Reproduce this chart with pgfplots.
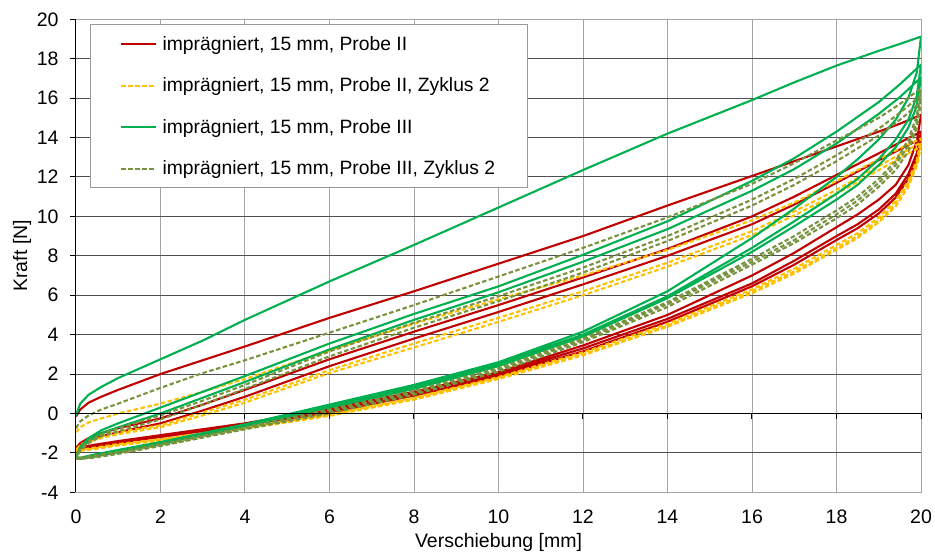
\documentclass[border=0pt]{standalone}
\usepackage{fontspec}
\setmainfont{Liberation Sans}
\usepackage{pgfplots}
\pgfplotsset{compat=1.18}
\usetikzlibrary{calc}

\definecolor{cRed}{RGB}{192,0,0}
\definecolor{cYellow}{RGB}{255,192,0}
\definecolor{cGreen}{RGB}{0,176,80}
\definecolor{cOlive}{RGB}{119,147,60}
\definecolor{gridH}{RGB}{80,80,80}
\definecolor{gridV}{RGB}{166,166,166}

\newcommand{\chartfont}{\fontsize{19.5}{23}\selectfont}
\newcommand{\legfont}{\fontsize{19.3}{23}\selectfont}

\begin{document}
\begin{tikzpicture}
\useasboundingbox (-76pt,-63.7pt) rectangle (859pt,492.3pt);
\begin{axis}[
  at={(0,0)}, anchor=south west,
  scale only axis, width=845pt, height=473pt,
  xmin=0, xmax=20, ymin=-4, ymax=20,
  xtick={0,2,...,20}, ytick={-4,-2,...,20},
  /pgf/number format/assume math mode=true,
  ticklabel style={font=\chartfont},
  xticklabel style={yshift=-8pt},
  yticklabel style={xshift=-8pt},
  grid=major,
  x grid style={gridV, line width=1pt},
  y grid style={gridH, line width=1pt},
  axis line style={gridV, line width=1pt},
  xtick style={draw=none},
  ytick style={black, line width=1pt},
  ytick pos=left, tick align=outside, major tick length=6pt,
  xlabel={Verschiebung [mm]}, ylabel={Kraft [N]},
  every axis x label/.style={at={(axis description cs:0.5,-0.107)}, anchor=center, font=\chartfont},
  every axis y label/.style={at={(axis description cs:-0.0639,0.5)}, rotate=90, anchor=center, font=\chartfont},
  legend style={at={(rel axis cs:0.0166,0.989)}, anchor=north west,
    draw=gray!80, line width=1pt, fill=white, font=\legfont,
    inner xsep=29.5pt, inner ysep=9pt, row sep=21pt, column sep=3pt,
    nodes={inner sep=2.5pt}},
  legend cell align=left,
  legend image code/.code={\draw[#1] (0pt,0pt) -- (35pt,0pt);},
]
% Probe II: three load/unload cycles
\addplot[draw=cRed, line width=2.1pt, line join=round] coordinates {
 (0,-0.15) (0.1,0.2) (0.3,0.55) (0.6,0.85) (1,1.2) (2,2.0) (3,2.7) (4,3.4) (6,4.85) (8,6.2) (10,7.6) (12,9.0) (14,10.55) (16,12.05) (17,12.8) (18,13.55) (19,14.3) (19.5,14.7) (20,15.15)
 (19.9,13.8) (19.7,12.6) (19.4,11.6) (19,10.85) (18.5,10.1) (18,9.45) (17,8.15) (16,7.0) (14,5.0) (12,3.45) (10,2.1) (8,1.1) (6,0.25) (4,-0.5) (2,-1.1) (1,-1.4) (0.4,-1.6) (0.1,-1.72) (0,-1.75)
 (0.1,-1.5) (0.3,-1.25) (0.6,-1.0) (1,-0.75) (2,-0.25) (3,0.45) (4,1.2) (6,2.75) (8,4.15) (10,5.5) (12,6.9) (14,8.35) (16,10.0) (17,11.0) (18,12.1) (19,13.2) (19.5,13.75) (20,14.3)
 (19.9,13.2) (19.7,12.15) (19.4,11.15) (19,10.35) (18.5,9.6) (18,9.0) (17,7.75) (16,6.6) (14,4.8) (12,3.3) (10,2.0) (8,1.0) (6,0.15) (4,-0.55) (2,-1.15) (1,-1.45) (0.4,-1.65) (0.1,-1.75) (0,-1.75)
 (0.1,-1.55) (0.3,-1.35) (0.6,-1.15) (1,-0.95) (2,-0.5) (3,0.15) (4,0.85) (6,2.4) (8,3.8) (10,5.15) (12,6.55) (14,8.0) (16,9.6) (17,10.6) (18,11.7) (19,12.85) (19.5,13.4) (20,13.95)
 (19.9,12.9) (19.7,11.9) (19.4,10.95) (19,10.15) (18.5,9.4) (18,8.8) (17,7.55) (16,6.45) (14,4.65) (12,3.15) (10,1.9) (8,0.9) (6,0.05) (4,-0.6) (2,-1.2) (1,-1.5) (0.4,-1.7) (0.1,-1.8) (0,-1.8)
};
\addlegendentry{imprägniert, 15 mm, Probe II}
% Probe II, second run
\addplot[draw=cYellow, line width=2.1pt, line join=round, dash pattern=on 4.5pt off 2.5pt] coordinates {
 (0,-0.95) (0.1,-0.7) (0.3,-0.45) (0.6,-0.25) (1,0.0) (2,0.5) (3,1.1) (4,1.75) (6,3.2) (8,4.55) (10,5.8) (12,7.0) (14,8.3) (16,9.8) (17,10.7) (18,11.8) (19,12.9) (19.5,13.45) (20,13.95)
 (19.9,12.85) (19.7,11.8) (19.4,10.8) (19,9.95) (18.5,9.15) (18,8.55) (17,7.35) (16,6.3) (14,4.55) (12,3.1) (10,1.85) (8,0.8) (6,-0.05) (4,-0.7) (2,-1.3) (1,-1.55) (0.4,-1.75) (0.1,-1.85) (0,-1.85)
 (0.1,-1.6) (0.3,-1.35) (0.6,-1.15) (1,-0.95) (2,-0.6) (3,0.05) (4,0.7) (6,2.2) (8,3.55) (10,4.85) (12,6.2) (14,7.65) (16,9.25) (17,10.25) (18,11.35) (19,12.55) (19.5,13.15) (20,13.75)
 (19.9,12.7) (19.7,11.65) (19.4,10.65) (19,9.8) (18.5,9.0) (18,8.4) (17,7.2) (16,6.2) (14,4.45) (12,3.0) (10,1.8) (8,0.75) (6,-0.1) (4,-0.75) (2,-1.35) (1,-1.6) (0.4,-1.8) (0.1,-1.88) (0,-1.88)
 (0.1,-1.65) (0.3,-1.45) (0.6,-1.25) (1,-1.05) (2,-0.7) (3,-0.1) (4,0.55) (6,2.05) (8,3.35) (10,4.65) (12,6.0) (14,7.45) (16,9.05) (17,10.05) (18,11.15) (19,12.35) (19.5,12.95) (20,13.55)
 (19.9,12.55) (19.7,11.5) (19.4,10.5) (19,9.7) (18.5,8.9) (18,8.3) (17,7.1) (16,6.1) (14,4.4) (12,2.95) (10,1.75) (8,0.7) (6,-0.12) (4,-0.78) (2,-1.38) (1,-1.62) (0.4,-1.82) (0.1,-1.9) (0,-1.9)
};
\addlegendentry{imprägniert, 15 mm, Probe II, Zyklus 2}
% Probe III
\addplot[draw=cGreen, line width=2.1pt, line join=round] coordinates {
 (0,-0.1) (0.1,0.5) (0.3,0.95) (0.6,1.35) (1,1.8) (2,2.75) (3,3.7) (4,4.75) (6,6.7) (8,8.55) (10,10.45) (12,12.35) (14,14.2) (16,15.9) (17,16.8) (18,17.65) (19,18.4) (19.5,18.75) (20,19.12)
 (19.9,17.3) (19.7,16.0) (19.4,14.9) (19,13.9) (18.5,12.9) (18,12.0) (17,10.4) (16,8.9) (14,6.2) (12,4.15) (10,2.6) (8,1.45) (6,0.45) (4,-0.55) (2,-1.45) (1,-1.85) (0.4,-2.1) (0.1,-2.25) (0,-2.2)
 (0.1,-1.7) (0.3,-1.25) (0.6,-0.85) (1,-0.5) (2,0.3) (3,1.1) (4,1.9) (6,3.55) (8,5.05) (10,6.45) (12,8.05) (14,9.75) (16,11.8) (17,12.95) (18,14.3) (19,15.8) (19.5,16.7) (20,17.7)
 (19.9,16.1) (19.7,14.9) (19.4,13.9) (19,12.9) (18.5,11.9) (18,11.15) (17,9.75) (16,8.4) (14,5.95) (12,4.0) (10,2.5) (8,1.35) (6,0.35) (4,-0.6) (2,-1.5) (1,-1.9) (0.4,-2.15) (0.1,-2.25) (0,-2.25)
 (0.1,-1.8) (0.3,-1.4) (0.6,-1.0) (1,-0.7) (2,0.0) (3,0.8) (4,1.6) (6,3.25) (8,4.75) (10,6.15) (12,7.7) (14,9.35) (16,11.3) (17,12.4) (18,13.7) (19,15.2) (19.5,16.05) (20,17.05)
 (19.9,15.6) (19.7,14.5) (19.4,13.5) (19,12.6) (18.5,11.6) (18,10.85) (17,9.5) (16,8.2) (14,5.85) (12,3.9) (10,2.4) (8,1.25) (6,0.3) (4,-0.65) (2,-1.55) (1,-1.95) (0.4,-2.2) (0.1,-2.3) (0,-2.3)
};
\addlegendentry{imprägniert, 15 mm, Probe III}
% Probe III, second run
\addplot[draw=cOlive, line width=2.1pt, line join=round, dash pattern=on 4.5pt off 2.5pt] coordinates {
 (0,-0.75) (0.1,-0.4) (0.3,-0.1) (0.6,0.2) (1,0.5) (2,1.3) (3,2.05) (4,2.7) (6,4.1) (8,5.5) (10,6.95) (12,8.4) (14,9.95) (16,11.65) (17,12.7) (18,13.85) (19,15.0) (19.5,15.7) (20,16.5)
 (19.9,15.1) (19.7,13.9) (19.4,12.8) (19,11.9) (18.5,11.0) (18,10.3) (17,9.0) (16,7.85) (14,5.65) (12,3.8) (10,2.3) (8,1.15) (6,0.2) (4,-0.7) (2,-1.55) (1,-1.95) (0.4,-2.15) (0.1,-2.25) (0,-2.2)
 (0.1,-1.8) (0.3,-1.4) (0.6,-1.05) (1,-0.75) (2,-0.1) (3,0.65) (4,1.45) (6,3.15) (8,4.6) (10,5.95) (12,7.4) (14,9.0) (16,10.85) (17,11.9) (18,13.1) (19,14.45) (19.5,15.25) (20,16.15)
 (19.9,14.8) (19.7,13.6) (19.4,12.6) (19,11.7) (18.5,10.8) (18,10.1) (17,8.8) (16,7.7) (14,5.55) (12,3.72) (10,2.22) (8,1.05) (6,0.1) (4,-0.75) (2,-1.6) (1,-2.0) (0.4,-2.2) (0.1,-2.3) (0,-2.25)
 (0.1,-1.9) (0.3,-1.5) (0.6,-1.15) (1,-0.9) (2,-0.3) (3,0.45) (4,1.25) (6,2.9) (8,4.35) (10,5.7) (12,7.15) (14,8.75) (16,10.55) (17,11.6) (18,12.8) (19,14.1) (19.5,14.9) (20,15.8)
 (19.9,14.5) (19.7,13.3) (19.4,12.35) (19,11.5) (18.5,10.6) (18,9.9) (17,8.65) (16,7.55) (14,5.4) (12,3.62) (10,2.12) (8,0.95) (6,0.0) (4,-0.8) (2,-1.65) (1,-2.05) (0.4,-2.25) (0.1,-2.3) (0,-2.3)
};
\addlegendentry{imprägniert, 15 mm, Probe III, Zyklus 2}
\coordinate (pBL) at (axis cs:0,-4);
\coordinate (pTL) at (axis cs:0,20);
\coordinate (pO) at (axis cs:0,0);
\coordinate (pE) at (axis cs:20,0);
\end{axis}
% value axis and zero line
\draw[black, line width=1pt] (pBL) -- (pTL);
\draw[black, line width=1pt] (pO) -- (pE);
\foreach \i in {0,...,10} {
  \draw[black, line width=1pt] ($(pO)!\i/10!(pE)$) -- ++(0,-6pt);
}
\end{tikzpicture}
\end{document}
